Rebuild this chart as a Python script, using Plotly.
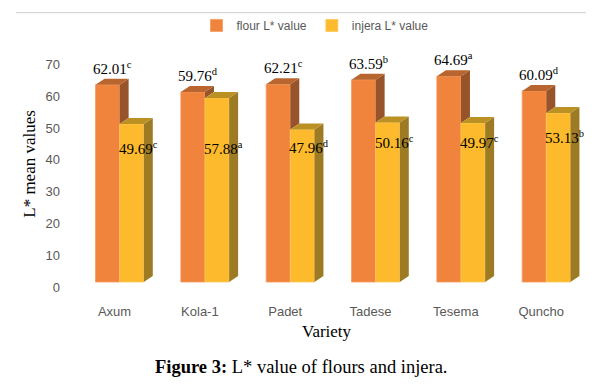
import plotly.graph_objects as go

varieties = ["Axum", "Kola-1", "Padet", "Tadese", "Tesema", "Quncho"]
flour_L = [62.01, 59.76, 62.21, 63.59, 64.69, 60.09]
injera_L = [49.69, 57.88, 47.96, 50.16, 49.97, 53.13]
flour_sig = ["c", "d", "c", "b", "a", "d"]
injera_sig = ["c", "a", "d", "c", "c", "b"]
y_ticks = [0, 10, 20, 30, 40, 50, 60, 70]

# styling / layout constants
W, H = 602, 391
ML, MR, MT, MB = 77, 13, 51.6, 104
BW = 0.283          # bar width in category units
DX = 0.105          # depth offset (x, category units)
DY = 1.875          # depth offset (y, value units)
YSHIFT = 1.5625     # tick label offset (value units)
flour_front, flour_top, flour_side = "#F0843C", "#B9652F", "#97532A"
inj_front, inj_top, inj_side = "#FDBA2C", "#BC9124", "#9C7B24"
# heights (value units) at which the injera labels sit
injera_label_y = [42.2, 42.2, 42.5, 44.1, 44.1, 45.6]

xs = list(range(len(varieties)))

fig = go.Figure()
fig.add_trace(go.Bar(x=xs, y=flour_L, name="flour L* value", width=BW, offset=-BW,
                     marker=dict(color=flour_front, line=dict(color="#F59A5E", width=0.8)),
                     hoverinfo="skip"))
fig.add_trace(go.Bar(x=xs, y=injera_L, name="injera L* value", width=BW, offset=0,
                     marker=dict(color=inj_front, line=dict(color="#FDC95A", width=0.8)),
                     hoverinfo="skip"))

def poly_trace(px, py, color):
    return go.Scatter(x=px, y=py, mode="lines", fill="toself", fillcolor=color,
                      line=dict(width=0, color=color), hoverinfo="skip", showlegend=False)

# flour side faces (visible above injera top face) and top faces
fsx, fsy, ftx, fty = [], [], [], []
isx, isy, itx, ity = [], [], [], []
for i, (f, j) in enumerate(zip(flour_L, injera_L)):
    xl, xr = i - BW, i
    fsx += [xr, xr, xr + DX, xr + DX, xr, None]
    fsy += [j, f, f + DY, j + DY, j, None]
    ftx += [xl, xl + DX, xr + DX, xr, xl, None]
    fty += [f, f + DY, f + DY, f, f, None]
    xl2, xr2 = i, i + BW
    isx += [xr2, xr2, xr2 + DX, xr2 + DX, xr2, None]
    isy += [0, j, j + DY, DY, 0, None]
    itx += [xl2, xl2 + DX, xr2 + DX, xr2, xl2, None]
    ity += [j, j + DY, j + DY, j, j, None]

fig.add_trace(poly_trace(fsx, fsy, flour_side))
fig.add_trace(poly_trace(ftx, fty, flour_top))
fig.add_trace(poly_trace(isx, isy, inj_side))
fig.add_trace(poly_trace(itx, ity, inj_top))

lab_font = dict(family="Liberation Serif", size=15, color="#000000")
for i in xs:
    fig.add_annotation(x=i - BW / 2, y=flour_L[i], text=f"{flour_L[i]:.2f}<sup>{flour_sig[i]}</sup>",
                       showarrow=False, xanchor="center", yanchor="middle", yshift=17, xshift=5,
                       font=lab_font)
    fig.add_annotation(x=i, y=injera_label_y[i], text=f"{injera_L[i]:.2f}<sup>{injera_sig[i]}</sup>",
                       showarrow=False, xanchor="left", yanchor="middle", xshift=-3,
                       font=lab_font)

PW = W - ML - MR
PH = H - MT - MB
fig.add_annotation(xref="paper", yref="paper", x=(327 - ML) / PW, y=0,
                   yshift=-(331 - (H - MB)), text="Variety", showarrow=False,
                   xanchor="center", yanchor="middle",
                   font=dict(family="Liberation Serif", size=17, color="#000000"))
fig.add_annotation(xref="paper", yref="paper", x=(301 - ML) / PW, y=0,
                   yshift=-(367 - (H - MB)), text="<b>Figure 3:</b> L* value of flours and injera.",
                   showarrow=False, xanchor="center", yanchor="middle",
                   font=dict(family="Liberation Serif", size=18.5, color="#000000"))
fig.add_annotation(xref="paper", yref="paper", x=0, xshift=-(ML - 30),
                   y=(H - MB - 163) / PH,
                   text="L* mean values", textangle=-90, showarrow=False,
                   xanchor="center", yanchor="middle",
                   font=dict(family="Liberation Serif", size=17, color="#000000"))

fig.add_shape(type="line", xref="paper", yref="paper",
              x0=(16 - ML) / PW, x1=(586 - ML) / PW,
              y0=1 + (MT - 11) / PH, y1=1 + (MT - 11) / PH,
              line=dict(color="#D0D0D0", width=1))

fig.update_layout(
    width=W, height=H,
    margin=dict(l=ML, r=MR, t=MT, b=MB, pad=0),
    paper_bgcolor="white", plot_bgcolor="white",
    barmode="overlay",
    showlegend=True,
    legend=dict(orientation="h", x=(315 - ML) / PW, xanchor="center",
                y=1 + (MT - 25) / PH, yanchor="middle",
                font=dict(family="Liberation Sans", size=12, color="#595959"),
                itemwidth=30, bgcolor="rgba(0,0,0,0)"),
    xaxis=dict(range=[-0.5, 5.5], tickvals=[i - 0.06 for i in xs], ticktext=varieties,
               showgrid=False, zeroline=False, showline=False, ticks="",
               tickfont=dict(family="Liberation Sans", size=13, color="#595959"),
               ticklabelstandoff=15),
    yaxis=dict(range=[-YSHIFT, 72], tickvals=[t - YSHIFT for t in y_ticks],
               ticktext=[str(t) for t in y_ticks],
               showgrid=False, zeroline=False, showline=False, ticks="",
               tickfont=dict(family="Liberation Sans", size=13, color="#595959"),
               ticklabelstandoff=16),
)

fig.write_html("out.html")
